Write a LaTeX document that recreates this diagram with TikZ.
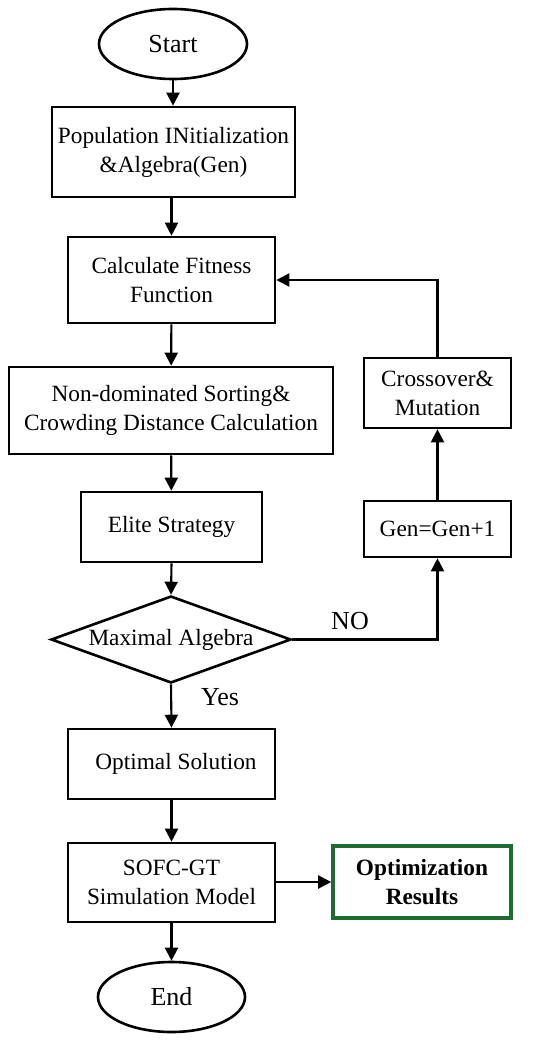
\documentclass[tikz,border=0pt]{standalone}
\usepackage{fontspec}
\setmainfont{Liberation Serif}
\usetikzlibrary{shapes.geometric,arrows.meta}
\definecolor{resgreen}{RGB}{28,110,48}
\begin{document}
\begin{tikzpicture}[x=1pt,y=-1pt,
  every node/.style={font=\fontsize{23.3}{29}\selectfont, align=center, inner sep=0pt},
  procbox/.style={draw, line width=2.6pt, rectangle},
  term/.style={draw, line width=2.6pt, ellipse, font=\fontsize{26}{30}\selectfont},
  arr/.style={line width=2.1pt, -{Triangle[length=13pt,width=13pt]}},
  lbl/.style={font=\fontsize{26}{30}\selectfont}]
\useasboundingbox (0,0) rectangle (550,1043);
\node[term, minimum width=148, minimum height=70] (start) at (173,44) {Start};
\node[procbox, minimum width=243, minimum height=90] (b1) at (173.5,152) {Population INitialization\\\&Algebra(Gen)};
\node[procbox, minimum width=207, minimum height=86] (b2) at (171.5,280) {Calculate Fitness\\Function};
\node[procbox, minimum width=324, minimum height=87] (b3) at (171,410.5) {Non-dominated Sorting\&\\Crowding Distance Calculation};
\node[procbox, minimum width=181, minimum height=70] (b4) at (171.5,527) {Elite Strategy};
\node[draw, line width=2.6pt, diamond, minimum width=240, minimum height=87] (dia) at (171,639.5) {};
\node (diatext) at (dia.center) {Maximal Algebra};
\node[procbox, minimum width=147, minimum height=56] (gen) at (437.5,529) {Gen=Gen+1};
\node[procbox, minimum width=147, minimum height=70] (cm) at (437.5,393) {Crossover\&\\Mutation};
\node[procbox, minimum width=207, minimum height=70] (b5) at (171.5,764) {\hspace*{9pt}Optimal Solution};
\node[procbox, minimum width=207, minimum height=79] (b6) at (171.5,882.5) {SOFC-GT\\Simulation Model};
\node[draw=resgreen, line width=3.6pt, rectangle, minimum width=178, minimum height=72, font=\fontsize{23.3}{29}\selectfont\bfseries] (res) at (422,882) {Optimization\\Results};
\node[term, minimum width=147, minimum height=70] (endn) at (171.5,997) {End};
\node[lbl] (nolbl) at (350,621) {NO};
\node[lbl] (yeslbl) at (220,697) {Yes};
\draw[arr] (start.south) -- (start.south |- b1.north);
\draw[arr] (b1.south -| b2.north) -- (b2.north);
\draw[arr] (b2) -- (b3);
\draw[arr] (b3) -- (b4);
\draw[arr] (b4.south) -- (dia.north);
\draw[arr] (dia.south) -- (b5.north);
\draw[arr] (b5) -- (b6);
\draw[arr] (b6) -- (endn);
\draw[arr] (b6.east |- res.west) -- (res.west);
\draw[arr] (dia.east) -| (gen.south);
\draw[arr] (gen) -- (cm);
\draw[arr] (cm.north) |- (b2.east);
\end{tikzpicture}
\end{document}
